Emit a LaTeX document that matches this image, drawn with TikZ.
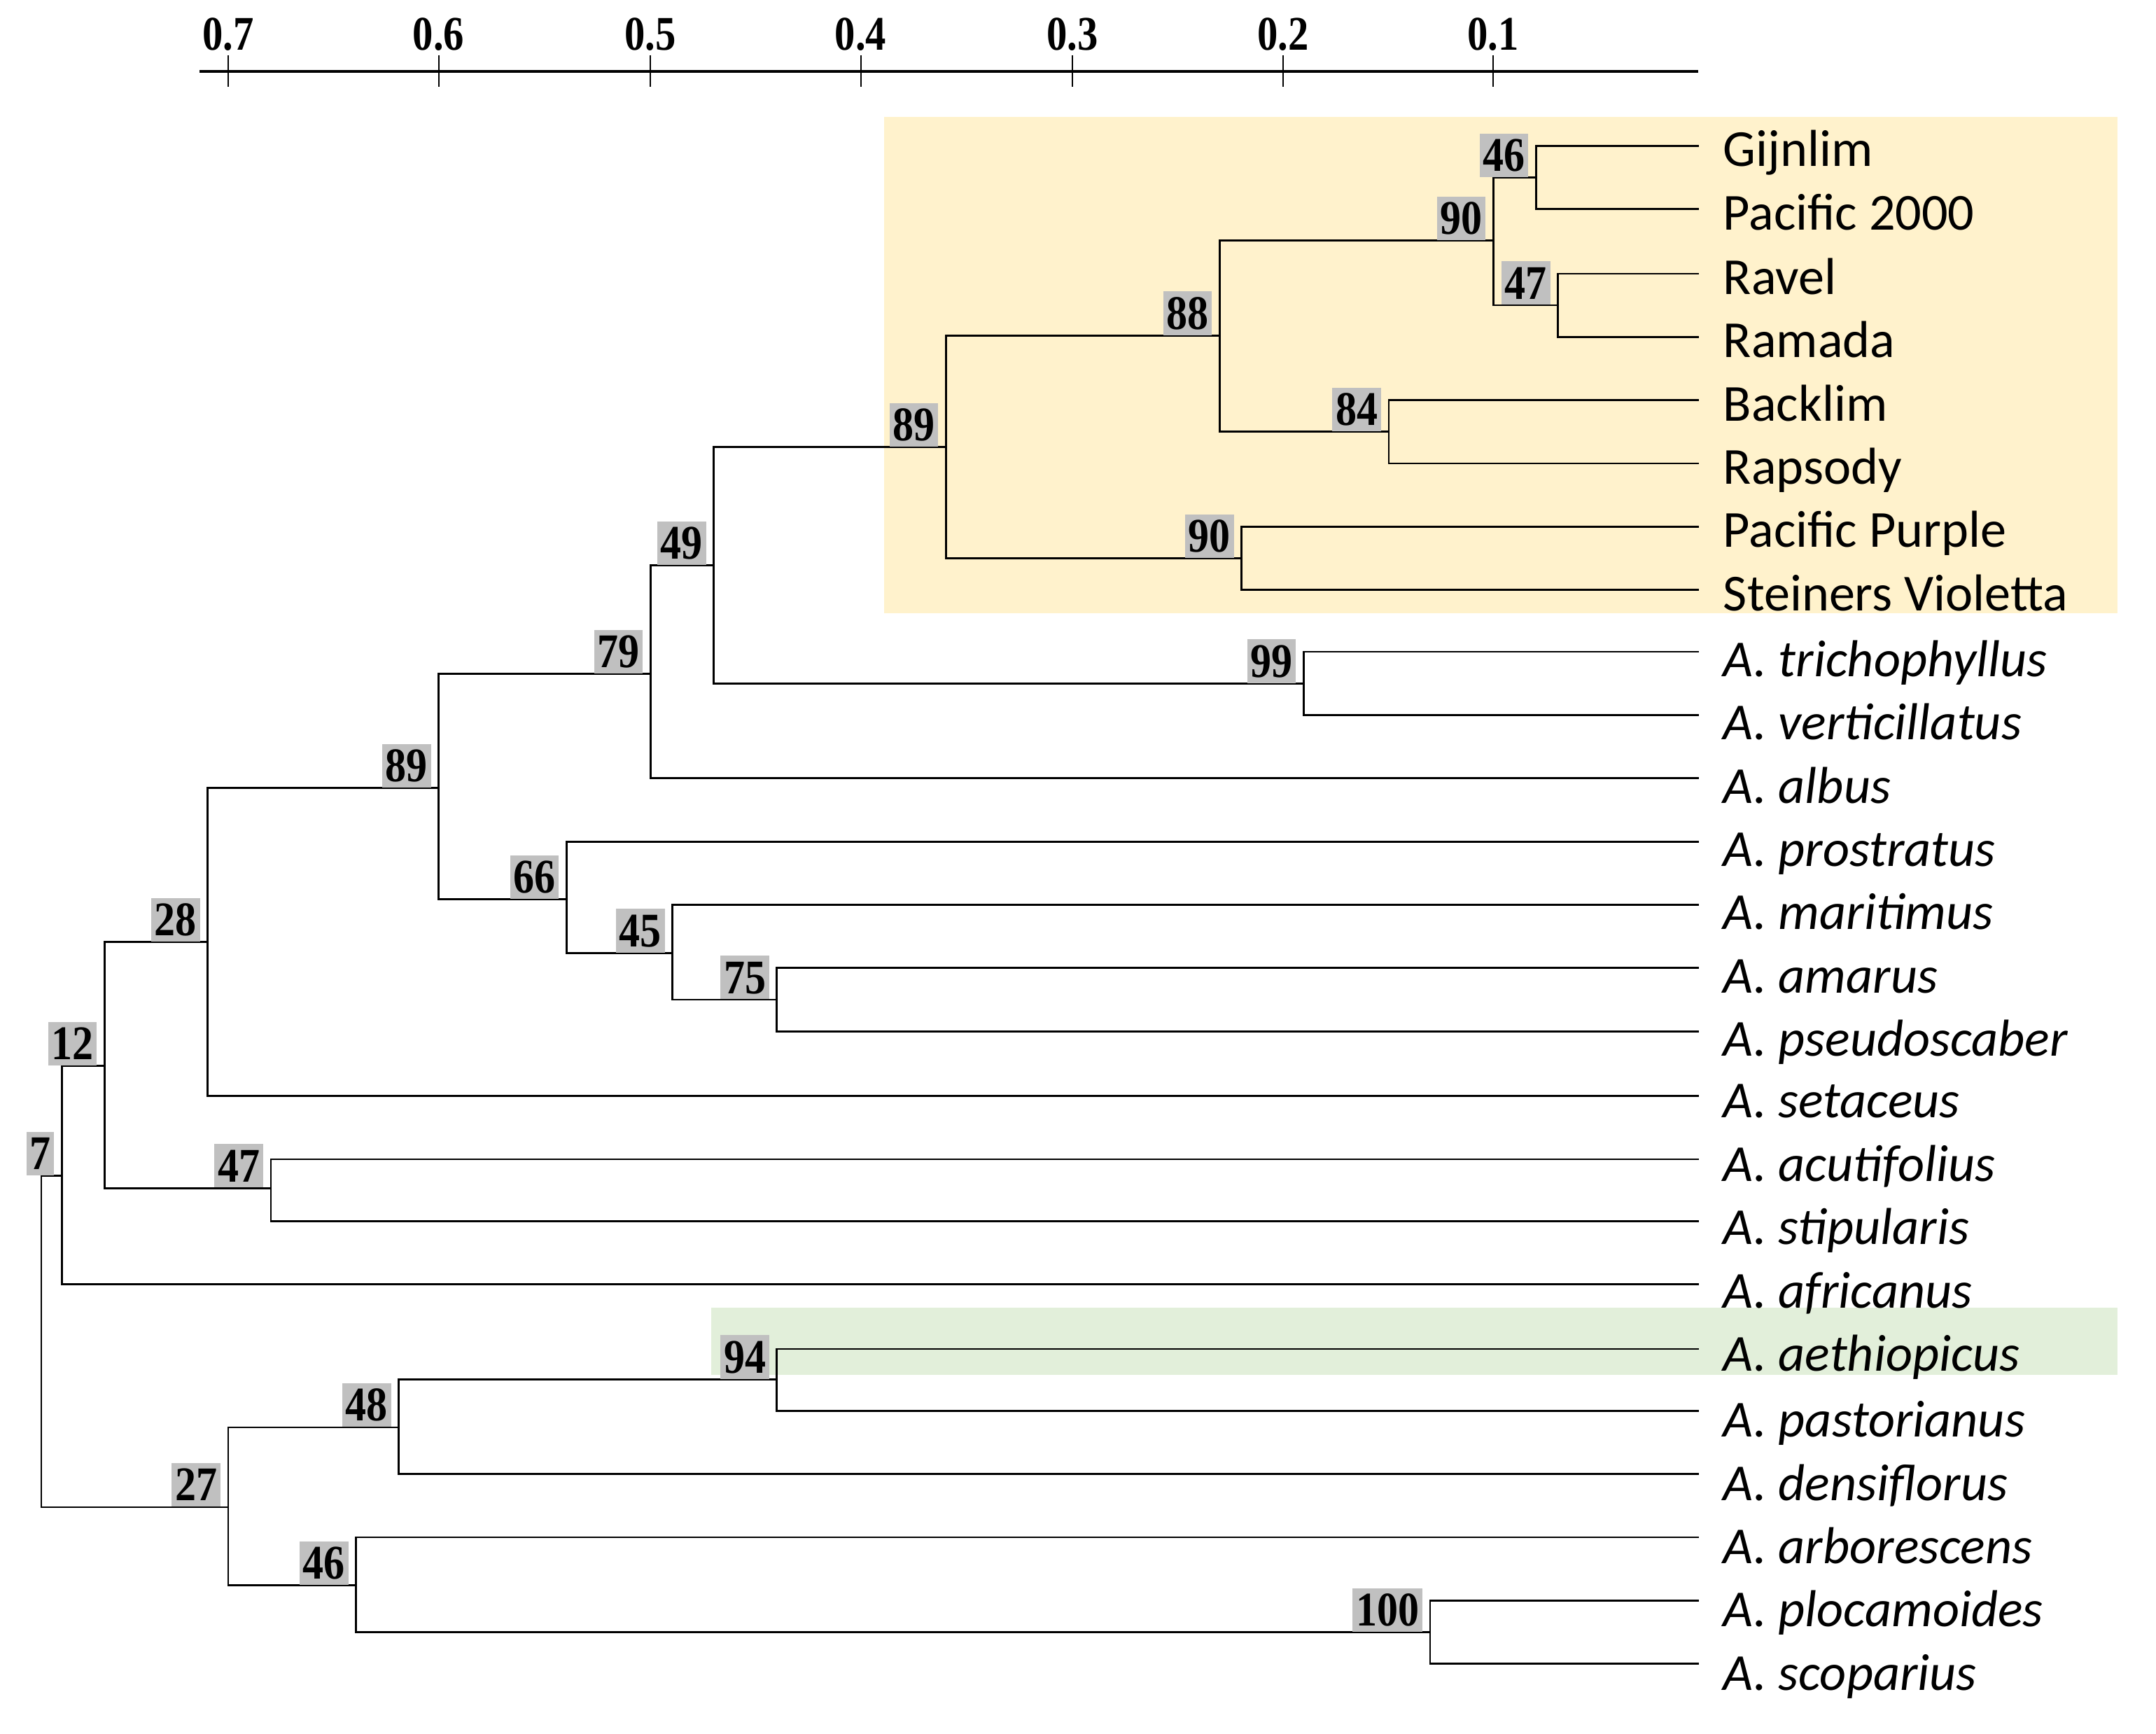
\documentclass[tikz,border=0pt]{standalone}
\usepackage{fontspec}
\setmainfont{Liberation Serif}
\newfontfamily\labfont{Carlito}
\definecolor{cream}{HTML}{FFF2CC}
\definecolor{lightgreen}{HTML}{E2EFDA}
\definecolor{bsgray}{HTML}{C0C0C0}
\begin{document}
\begin{tikzpicture}[x=0.02cm,y=-0.02cm,
  tree/.style={line width=0.8pt, line cap=rect},
  axisline/.style={line width=1.3pt},
  tick/.style={line width=0.6pt},
  ticklab/.style={font=\bfseries\fontsize{20}{22}\selectfont, inner sep=0pt, xscale=0.85},
  cultivar/.style={anchor=base west, inner sep=0pt, font=\labfont\fontsize{21.5}{24}\selectfont},
  species/.style={anchor=base west, inner sep=0pt, font=\labfont\itshape\fontsize{21.5}{24}\selectfont},
  bs/.style={anchor=south east, fill=bsgray, xscale=0.87, inner xsep=1.6pt, inner ysep=1.8pt, text height=13.8pt, text depth=0.6pt, font=\bfseries\fontsize{20}{22}\selectfont}]
\useasboundingbox (0,0) rectangle (1568,1261);
\fill[white] (0,0) rectangle (1568,1261);
% highlight boxes
\fill[cream] (643,85) rectangle (1540,446);
\fill[lightgreen] (517,951) rectangle (1540,1000);
% axis
\draw[axisline] (145,52) -- (1235,52);
\foreach \v/\xx in {0.7/166,0.6/319,0.5/473,0.4/626,0.3/780,0.2/933,0.1/1086}{
  \draw[tick] (\xx,40) -- (\xx,63);
  \node[ticklab] (ax\xx) at (\xx,25) {\v};
}
% leaf tips and labels
\foreach \i/\yy in {1/106,2/152,3/199,4/245,5/291,6/337,7/383,8/429,9/474,10/520,11/566,12/612,13/658,14/704,15/750,16/797,17/843,18/888,19/934,20/981,21/1026,22/1072,23/1118,24/1164,25/1210}{
  \coordinate (t\i) at (1235,\yy);
}
\node[cultivar] (l1) at (1253,121) {Gijnlim};
\node[cultivar] (l2) at (1253,167) {Pacific 2000};
\node[cultivar] (l3) at (1253,214) {Ravel};
\node[cultivar] (l4) at (1253,260) {Ramada};
\node[cultivar] (l5) at (1253,306) {Backlim};
\node[cultivar] (l6) at (1253,352) {Rapsody};
\node[cultivar] (l7) at (1253,398) {Pacific Purple};
\node[cultivar] (l8) at (1253,444) {Steiners Violetta};
\node[species] (l9) at (1253,492) {A. trichophyllus};
\node[species] (l10) at (1253,538) {A. verticillatus};
\node[species] (l11) at (1253,584) {A. albus};
\node[species] (l12) at (1253,630) {A. prostratus};
\node[species] (l13) at (1253,676) {A. maritimus};
\node[species] (l14) at (1253,722) {A. amarus};
\node[species] (l15) at (1253,768) {A. pseudoscaber};
\node[species] (l16) at (1253,813) {A. setaceus};
\node[species] (l17) at (1253,859) {A. acutifolius};
\node[species] (l18) at (1253,905) {A. stipularis};
\node[species] (l19) at (1253,951) {A. africanus};
\node[species] (l20) at (1253,997) {A. aethiopicus};
\node[species] (l21) at (1253,1045) {A. pastorianus};
\node[species] (l22) at (1253,1091) {A. densiflorus};
\node[species] (l23) at (1253,1137) {A. arborescens};
\node[species] (l24) at (1253,1183) {A. plocamoides};
\node[species] (l25) at (1253,1229) {A. scoparius};
% internal nodes
\coordinate (nA) at (1117,129);   % 46
\coordinate (nB) at (1133,222);   % 47
\coordinate (nC) at (1086,175);   % 90
\coordinate (nD) at (1010,314);   % 84
\coordinate (nE) at (887,244);    % 88
\coordinate (nF) at (903,406);    % 90
\coordinate (nG) at (688,325);    % 89
\coordinate (nH) at (948,497);    % 99
\coordinate (nI) at (519,411);    % 49
\coordinate (nJ) at (473,490);    % 79
\coordinate (nK) at (565,727);    % 75
\coordinate (nL) at (489,693);    % 45
\coordinate (nM) at (412,654);    % 66
\coordinate (nN) at (319,573);    % 89
\coordinate (nO) at (151,685);    % 28
\coordinate (nP) at (197,864);    % 47
\coordinate (nQ) at (76,775);     % 12
\coordinate (nR) at (45,855);     % 7
\coordinate (nS) at (565,1003);   % 94
\coordinate (nT) at (290,1038);   % 48
\coordinate (nU) at (1040,1187);  % 100
\coordinate (nV) at (259,1153);   % 46
\coordinate (nW) at (166,1096);   % 27
\coordinate (root) at (30,975);
% branches
\draw[tree] (nA) |- (t1); \draw[tree] (nA) |- (t2);
\draw[tree] (nB) |- (t3); \draw[tree] (nB) |- (t4);
\draw[tree] (nC) |- (nA); \draw[tree] (nC) |- (nB);
\draw[tree] (nD) |- (t5); \draw[tree] (nD) |- (t6);
\draw[tree] (nE) |- (nC); \draw[tree] (nE) |- (nD);
\draw[tree] (nF) |- (t7); \draw[tree] (nF) |- (t8);
\draw[tree] (nG) |- (nE); \draw[tree] (nG) |- (nF);
\draw[tree] (nH) |- (t9); \draw[tree] (nH) |- (t10);
\draw[tree] (nI) |- (nG); \draw[tree] (nI) |- (nH);
\draw[tree] (nJ) |- (nI); \draw[tree] (nJ) |- (t11);
\draw[tree] (nK) |- (t14); \draw[tree] (nK) |- (t15);
\draw[tree] (nL) |- (t13); \draw[tree] (nL) |- (nK);
\draw[tree] (nM) |- (t12); \draw[tree] (nM) |- (nL);
\draw[tree] (nN) |- (nJ); \draw[tree] (nN) |- (nM);
\draw[tree] (nO) |- (nN); \draw[tree] (nO) |- (t16);
\draw[tree] (nP) |- (t17); \draw[tree] (nP) |- (t18);
\draw[tree] (nQ) |- (nO); \draw[tree] (nQ) |- (nP);
\draw[tree] (nR) |- (nQ); \draw[tree] (nR) |- (t19);
\draw[tree] (nS) |- (t20); \draw[tree] (nS) |- (t21);
\draw[tree] (nT) |- (nS); \draw[tree] (nT) |- (t22);
\draw[tree] (nU) |- (t24); \draw[tree] (nU) |- (t25);
\draw[tree] (nV) |- (t23); \draw[tree] (nV) |- (nU);
\draw[tree] (nW) |- (nT); \draw[tree] (nW) |- (nV);
\draw[tree] (root) |- (nR); \draw[tree] (root) |- (nW);
% bootstrap values
\node[bs] (bA) at ([xshift=-3]nA) {46};
\node[bs] (bB) at ([xshift=-3]nB) {47};
\node[bs] (bC) at ([xshift=-3]nC) {90};
\node[bs] (bD) at ([xshift=-3]nD) {84};
\node[bs] (bE) at ([xshift=-3]nE) {88};
\node[bs] (bF) at ([xshift=-3]nF) {90};
\node[bs] (bG) at ([xshift=-3]nG) {89};
\node[bs] (bH) at ([xshift=-3]nH) {99};
\node[bs] (bI) at ([xshift=-3]nI) {49};
\node[bs] (bJ) at ([xshift=-3]nJ) {79};
\node[bs] (bK) at ([xshift=-3]nK) {75};
\node[bs] (bL) at ([xshift=-3]nL) {45};
\node[bs] (bM) at ([xshift=-3]nM) {66};
\node[bs] (bN) at ([xshift=-3]nN) {89};
\node[bs] (bO) at ([xshift=-3]nO) {28};
\node[bs] (bP) at ([xshift=-3]nP) {47};
\node[bs] (bQ) at ([xshift=-3]nQ) {12};
\node[bs] (bR) at ([xshift=-3]nR) {7};
\node[bs] (bS) at ([xshift=-3]nS) {94};
\node[bs] (bT) at ([xshift=-3]nT) {48};
\node[bs] (bU) at ([xshift=-3]nU) {100};
\node[bs] (bV) at ([xshift=-3]nV) {46};
\node[bs] (bW) at ([xshift=-3]nW) {27};
\end{tikzpicture}
\end{document}
